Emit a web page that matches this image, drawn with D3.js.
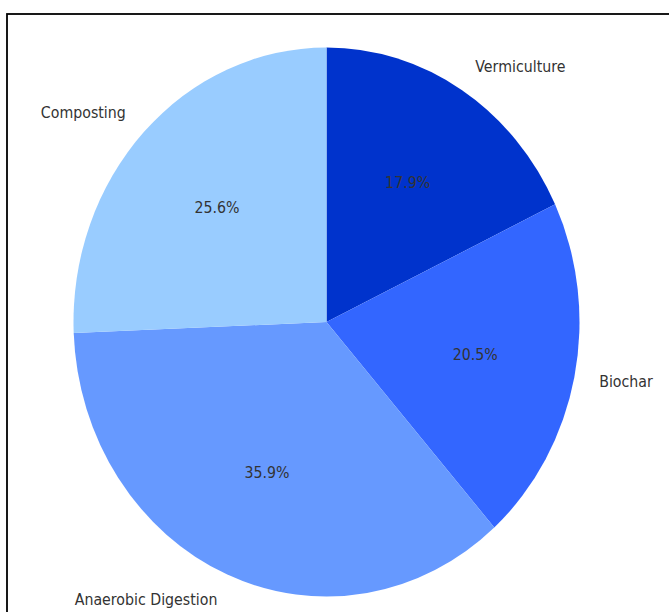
<!DOCTYPE html>
<html>
<head>
<meta charset="utf-8">
<script src="https://cdn.jsdelivr.net/npm/d3@7"></script>
<style>
  html, body { margin: 0; padding: 0; background: #ffffff; }
  svg { display: block; }
  text { font-family: "DejaVu Sans", sans-serif; font-size: 14.2px; fill: #333333; }
</style>
</head>
<body>
<svg id="chart" width="669" height="612"></svg>
<script>
// Share of organic waste handled by each treatment method
const categories = ["Vermiculture", "Biochar", "Anaerobic Digestion", "Composting"];
const values = [7, 8, 14, 10];
const colors = ["#0033cc", "#3366ff", "#6699ff", "#99ccff"];

const width = 669, height = 612;
const cx = 326.5, cy = 322;
const rx = 253, ry = 274.5;
const stretch = ry / rx;

const svg = d3.select("#chart");

// figure frame
svg.append("rect")
  .attr("x", 7).attr("y", 14)
  .attr("width", 700).attr("height", 700)
  .attr("fill", "none")
  .attr("stroke", "#000")
  .attr("stroke-width", 1.8);

const pie = d3.pie().sort(null).value(d => d).startAngle(0).endAngle(2 * Math.PI);
const arcs = pie(values);
const total = d3.sum(values);

const arc = d3.arc().innerRadius(0).outerRadius(rx);

// slices, stretched vertically to the plot's aspect
svg.append("g")
  .attr("transform", `translate(${cx},${cy}) scale(1,${stretch})`)
  .selectAll("path")
  .data(arcs)
  .join("path")
  .attr("d", arc)
  .attr("fill", (d, i) => colors[i]);

function pos(angle, k) {
  return [cx + k * rx * Math.sin(angle), cy - k * ry * Math.cos(angle)];
}

const labels = svg.append("g");

function addLabel(x, y, anchor, str) {
  labels.append("text")
    .attr("transform", `translate(${x},${y - 0.5}) scale(1,${stretch})`)
    .attr("dy", "0.35em")
    .attr("text-anchor", anchor)
    .text(str);
}

arcs.forEach((d, i) => {
  const mid = (d.startAngle + d.endAngle) / 2;
  const [lx, ly] = pos(mid, 1.1);
  addLabel(lx, ly, Math.sin(mid) >= 0 ? "start" : "end", categories[i]);

  const [px, py] = pos(mid, 0.6);
  addLabel(px, py, "middle", (values[i] / total * 100).toFixed(1) + "%");
});
</script>
</body>
</html>
